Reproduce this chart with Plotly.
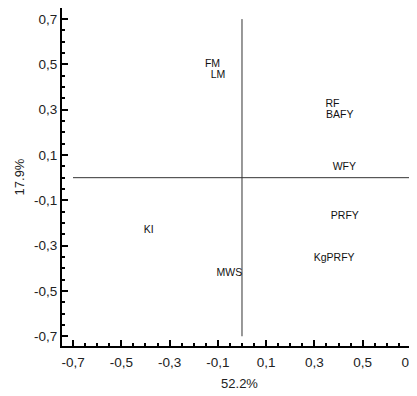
import plotly.graph_objects as go

# data
labels = ["FM", "LM", "RF", "BAFY", "WFY", "PRFY", "KgPRFY", "MWS", "KI"]
pc1 = [-0.122, -0.099, 0.375, 0.405, 0.424, 0.426, 0.382, -0.052, -0.386]
pc2 = [0.500, 0.452, 0.324, 0.276, 0.045, -0.171, -0.358, -0.424, -0.233]

tick_vals = [-0.7, -0.5, -0.3, -0.1, 0.1, 0.3, 0.5, 0.7]
tick_text = ["-0,7", "-0,5", "-0,3", "-0,1", "0,1", "0,3", "0,5", "0,7"]

x_title = "52.2%"
y_title = "17.9%"

cross_x = [-0.7, 0.7]
cross_zero = [0, 0]

fig = go.Figure()
fig.add_trace(go.Scatter(x=cross_x, y=cross_zero, mode="lines",
                         line=dict(color="#333333", width=1), hoverinfo="skip"))
fig.add_trace(go.Scatter(x=cross_zero, y=cross_x, mode="lines",
                         line=dict(color="#333333", width=1), hoverinfo="skip"))
fig.add_trace(go.Scatter(x=pc1, y=pc2, mode="text", text=labels,
                         textposition="middle center",
                         textfont=dict(family="Liberation Sans, Arial", size=10.5, color="#111111")))

axis_common = dict(
    tickvals=tick_vals, ticktext=tick_text,
    ticks="inside", ticklen=6, tickwidth=1.5, tickcolor="black",
    showline=True, linecolor="black", linewidth=2,
    showgrid=False, zeroline=False, automargin=False,
    ticklabeloverflow="allow",
    tickfont=dict(family="Liberation Sans, Arial", size=13.5, color="#222222"),
    minor=dict(dtick=0.05, tick0=0.0, ticks="inside", ticklen=3, tickwidth=1.5, tickcolor="black"),
)

# page body has an 8px default margin; compensate so the plot area matches
fig.update_layout(
    width=409, height=388,
    margin=dict(l=54, r=0, t=0, b=50),
    plot_bgcolor="white", paper_bgcolor="white",
    showlegend=False,
    xaxis=dict(range=[-0.7456, 0.725], ticklabelstandoff=3,
               title=dict(text=x_title, standoff=10,
               font=dict(family="Liberation Sans, Arial", size=13, color="#222222")),
               **axis_common),
    yaxis=dict(range=[-0.743, 0.749],
               title=dict(text=y_title, standoff=6,
               font=dict(family="Liberation Sans, Arial", size=13, color="#222222")),
               **axis_common),
)

fig.write_html("out.html")
